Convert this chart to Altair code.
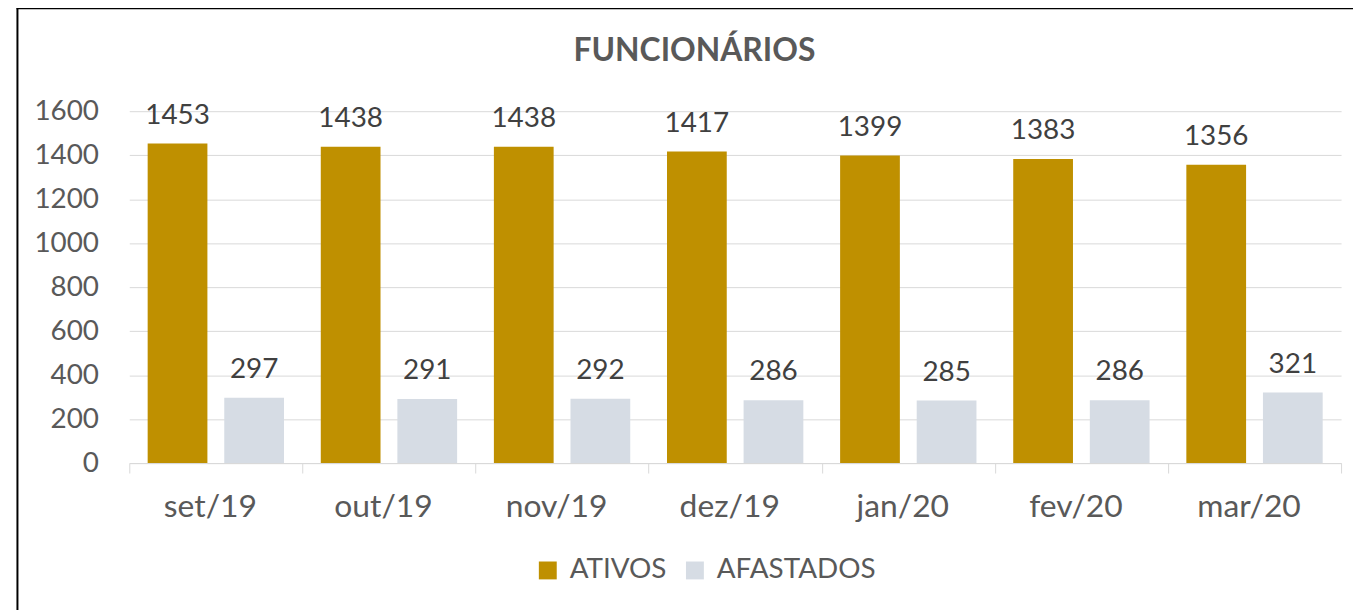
import altair as alt
import pandas as pd

months = ["set/19", "out/19", "nov/19", "dez/19", "jan/20", "fev/20", "mar/20"]
ativos = [1453, 1438, 1438, 1417, 1399, 1383, 1356]
afastados = [297, 291, 292, 286, 285, 286, 321]
series = ["ATIVOS", "AFASTADOS"]
colors = ["#BF9000", "#D6DCE4"]
y_ticks = [0, 200, 400, 600, 800, 1000, 1200, 1400, 1600]

rows = []
for m, a, f in zip(months, ativos, afastados):
    rows.append({"mes": m, "serie": "ATIVOS", "valor": a})
    rows.append({"mes": m, "serie": "AFASTADOS", "valor": f})
df = pd.DataFrame(rows)

FONT = "Lato"
W, H = 1219, 354

x_enc = alt.X(
    "mes:N", sort=months,
    scale=alt.Scale(paddingInner=0, paddingOuter=0),
    axis=alt.Axis(title=None, labelAngle=0, tickBand="extent",
                  domainColor="#D9D9D9", tickColor="#D9D9D9", tickSize=10,
                  labelPadding=19, labelFontSize=32, labelFont=FONT,
                  labelColor="#595959", labelOffset=-6, grid=False),
)
xo_enc = alt.XOffset("serie:N", sort=series,
                     scale=alt.Scale(paddingInner=0.22, paddingOuter=0.24))
y_enc = alt.Y(
    "valor:Q", scale=alt.Scale(domain=[0, 1600]),
    axis=alt.Axis(title=None, values=y_ticks, format="d", domain=False,
                  ticks=False, gridColor="#D9D9D9", labelPadding=31,
                  labelFontSize=28, labelFont=FONT, labelColor="#595959"),
)

base = alt.Chart(df)

bars = base.mark_bar().encode(
    x=x_enc, xOffset=xo_enc, y=y_enc,
    color=alt.Color("serie:N", sort=series,
                    scale=alt.Scale(domain=series, range=colors),
                    legend=alt.Legend(orient="none", legendX=407, legendY=448,
                                      direction="horizontal", title=None,
                                      symbolType="square", symbolSize=324,
                                      symbolStrokeWidth=0, labelFontSize=28,
                                      labelFont=FONT, labelColor="#595959",
                                      columnPadding=14, labelOffset=8,
                                      padding=0)),
)

labels = base.mark_text(dy=-20, baseline="alphabetic", fontSize=28,
                        font=FONT, color="#404040").encode(
    x=x_enc, xOffset=xo_enc, y=y_enc, text="valor:Q",
)

one = pd.DataFrame({"a": [0]})
border_left = alt.Chart(one).mark_rule(color="black", strokeWidth=2).encode(
    x=alt.value(-112.5), y=alt.value(-103.5), y2=alt.value(520))
border_top = alt.Chart(one).mark_rule(color="black", strokeWidth=2).encode(
    x=alt.value(-113.5), x2=alt.value(1240), y=alt.value(-103.5))

chart = alt.layer(bars, labels, border_left, border_top).properties(
    width=W, height=H,
    title=alt.Title("FUNCIONÁRIOS", fontSize=32, font=FONT, fontWeight="bold",
                    color="#595959", anchor="middle", dx=-41, offset=-76,
                    baseline="middle"),
    autosize=alt.AutoSizeParams(type="none"),
    padding={"left": 122, "top": 102, "right": 12, "bottom": 146},
).configure_view(stroke=None)

chart.save("out.html", embed_options={"renderer": "svg", "actions": False})
